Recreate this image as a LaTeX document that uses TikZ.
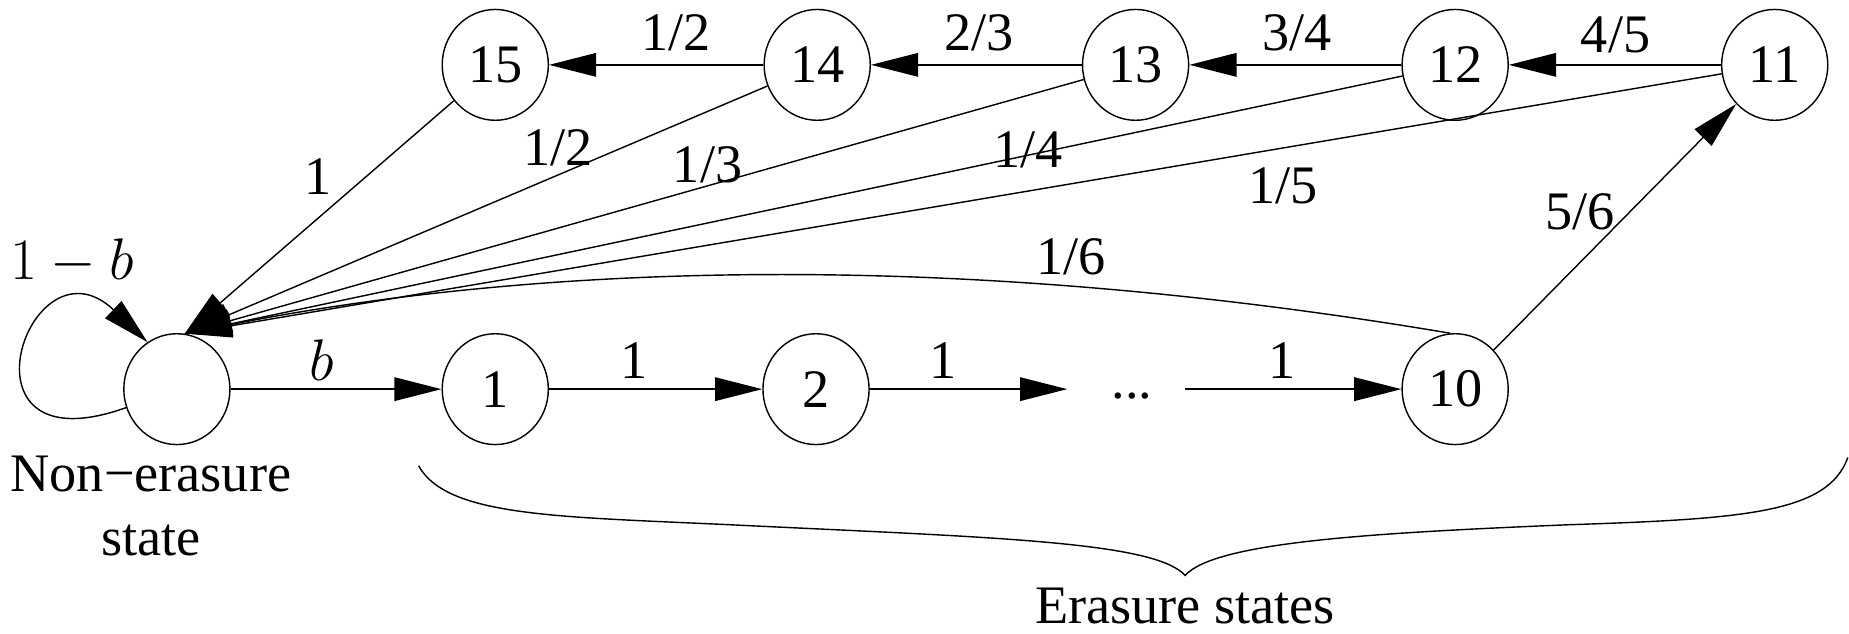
\documentclass[tikz,border=0pt]{standalone}
\usepackage{fontspec}
\setmainfont{Liberation Serif}
\usetikzlibrary{arrows.meta,shapes.geometric}
\begin{document}
\begin{tikzpicture}[x=0.5pt,y=-0.5pt,
  every node/.style={font=\fontsize{23}{27}\selectfont},
  state/.style={draw, ellipse, line width=0.6pt, minimum width=45pt, minimum height=47pt, inner sep=0pt},
  edge/.style={line width=0.6pt, -{Triangle[length=20pt,width=10pt]}},
  lbl/.style={inner sep=0pt}]
\useasboundingbox (0,0) rectangle (1568,537);

% states
\node[state] (N)   at (150,330) {};
\node[state] (s1)  at (420,330) {1};
\node[state] (s2)  at (692,330) {2};
\node[lbl]   (dots) at (960,336) {...};
\node[state] (s10) at (1234,330) {10};
\node[state] (s11) at (1505,55) {11};
\node[state] (s12) at (1234,55) {12};
\node[state] (s13) at (963,55) {13};
\node[state] (s14) at (693,55) {14};
\node[state] (s15) at (420,55) {15};
\coordinate (hub) at (N.82);

% forward chain
\draw[edge] (N) -- (s1);
\draw[edge] (s1) -- (s2);
\draw[edge] (s2) -- (905,330) coordinate (d1);
\draw[edge] (1005,330) coordinate (d2) -- (s10);
\draw[edge] (s10) -- (s11);
\draw[edge] (s11) -- (s12);
\draw[edge] (s12) -- (s13);
\draw[edge] (s13) -- (s14);
\draw[edge] (s14) -- (s15);

% returns to the non-erasure state
\draw[edge] (s15) -- (hub);
\draw[edge] (s14) -- (hub);
\draw[edge] (s13) -- (hub);
\draw[edge] (s12) -- (hub);
\draw[edge] (s11) -- (hub);
\draw[edge] (s10.95) .. controls (800,210) and (450,225) .. (hub);

% self loop
\draw[edge] (N.200) .. controls (-45,400) and (25,195) .. (N.122);

% transition labels
\node[lbl] at (273,305) {$b$};
\node[lbl] at (538,306) {1};
\node[lbl] at (800,306) {1};
\node[lbl] at (1087,306) {1};
\node[lbl] at (61,222) {$1-b$};
\node[lbl] at (573,28) {1/2};
\node[lbl] at (830,28) {2/3};
\node[lbl] at (1100,28) {3/4};
\node[lbl] at (1370,30) {4/5};
\node[lbl] at (270,150) {1};
\node[lbl] at (473,125) {1/2};
\node[lbl] at (600,140) {1/3};
\node[lbl] at (872,127) {1/4};
\node[lbl] at (1088,158) {1/5};
\node[lbl] at (908,218) {1/6};
\node[lbl] at (1340,180) {5/6};

% captions
\node[lbl, align=center] (cap) at (128,429) {Non−erasure\\state};
\draw[line width=0.6pt] (355,395) .. controls (380,440) and (480,438) .. (640,446)
  .. controls (850,456) and (980,460) .. (1005,488)
  .. controls (1030,460) and (1160,452) .. (1330,445)
  .. controls (1480,440) and (1550,435) .. (1567,388);
\node[lbl] (erasure) at (1005,514) {Erasure states};
\end{tikzpicture}
\end{document}
